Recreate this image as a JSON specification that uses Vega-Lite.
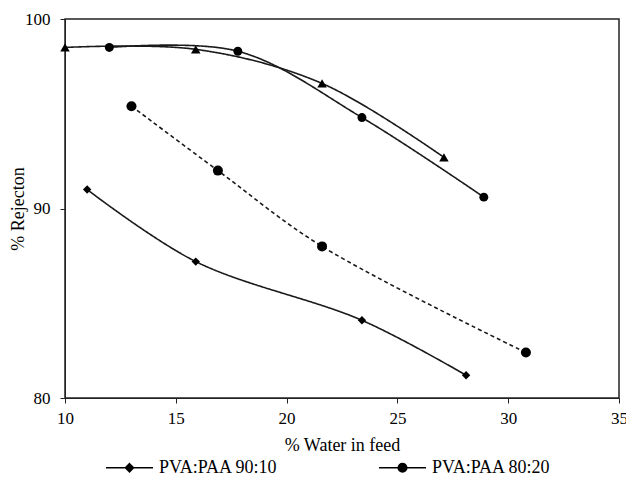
{
  "$schema": "https://vega.github.io/schema/vega-lite/v6.json",
  "width": 554,
  "height": 379,
  "autosize": {"type": "none"},
  "padding": {"left": 65, "top": 19, "right": 7, "bottom": 79},
  "background": "white",
  "config": {
    "font": "Liberation Serif",
    "view": {"stroke": "#222", "strokeWidth": 1.5},
    "legend": {"labelFont": "Liberation Serif"}
  },
  "data": {
    "values": [
      {"series": "PVA:PAA 90:10", "x": 11.0, "y": 91.0},
      {"series": "PVA:PAA 90:10", "x": 15.9, "y": 87.2},
      {"series": "PVA:PAA 90:10", "x": 23.4, "y": 84.1},
      {"series": "PVA:PAA 90:10", "x": 28.1, "y": 81.2},
      {"series": "PVA:PAA 80:20", "x": 12.0, "y": 98.5},
      {"series": "PVA:PAA 80:20", "x": 17.8, "y": 98.3},
      {"series": "PVA:PAA 80:20", "x": 23.4, "y": 94.8},
      {"series": "PVA:PAA 80:20", "x": 28.9, "y": 90.6},
      {"series": "PVA:PAA 70:30", "x": 10.0, "y": 98.5},
      {"series": "PVA:PAA 70:30", "x": 15.9, "y": 98.4},
      {"series": "PVA:PAA 70:30", "x": 21.6, "y": 96.6},
      {"series": "PVA:PAA 70:30", "x": 27.1, "y": 92.7},
      {"series": "PVA:PAA 80:20 (b)", "x": 13.0, "y": 95.4},
      {"series": "PVA:PAA 80:20 (b)", "x": 16.9, "y": 92.0},
      {"series": "PVA:PAA 80:20 (b)", "x": 21.6, "y": 88.0},
      {"series": "PVA:PAA 80:20 (b)", "x": 30.8, "y": 82.4}
    ]
  },
  "encoding": {
    "x": {
      "field": "x", "type": "quantitative",
      "scale": {"domain": [10, 35], "nice": false, "zero": false},
      "axis": {
        "title": "% Water in feed", "values": [10, 15, 20, 25, 30, 35],
        "grid": false, "tickSize": 5, "tickColor": "#222", "domainColor": "#222",
        "labelFontSize": 17, "labelColor": "black", "labelPadding": 7, "labelFlush": false,
        "titleFontSize": 18, "titleFontWeight": "normal", "titleColor": "black",
        "titleBaseline": "middle", "titleY": 47
      }
    },
    "y": {
      "field": "y", "type": "quantitative",
      "scale": {"domain": [80, 100], "nice": false, "zero": false},
      "axis": {
        "title": "% Rejecton", "values": [80, 90, 100],
        "grid": false, "tickSize": 5, "tickColor": "#222", "domainColor": "#222",
        "labelFontSize": 17, "labelColor": "black", "labelPadding": 10,
        "titleFontSize": 18, "titleFontWeight": "normal", "titleColor": "black",
        "titleBaseline": "middle", "titleX": -47
      }
    }
  },
  "layer": [
    {
      "mark": {"type": "line", "interpolate": "catmull-rom", "color": "#1a1a1a", "strokeWidth": 1.6},
      "encoding": {
        "detail": {"field": "series"},
        "strokeDash": {
          "field": "series",
          "scale": {
            "domain": ["PVA:PAA 90:10", "PVA:PAA 80:20", "PVA:PAA 70:30", "PVA:PAA 80:20 (b)"],
            "range": [[1, 0], [1, 0], [1, 0], [4, 3]]
          },
          "legend": null
        }
      }
    },
    {
      "mark": {"type": "point", "filled": true, "opacity": 1, "color": "black"},
      "encoding": {
        "shape": {
          "field": "series",
          "scale": {
            "domain": ["PVA:PAA 90:10", "PVA:PAA 80:20", "PVA:PAA 70:30", "PVA:PAA 80:20 (b)"],
            "range": ["diamond", "circle", "triangle-up", "circle"]
          },
          "legend": null
        },
        "size": {
          "field": "series",
          "scale": {
            "domain": ["PVA:PAA 90:10", "PVA:PAA 80:20", "PVA:PAA 70:30", "PVA:PAA 80:20 (b)"],
            "range": [70, 100, 80, 100]
          },
          "legend": null
        }
      }
    },
    {
      "transform": [{"filter": {"field": "series", "oneOf": ["PVA:PAA 90:10", "PVA:PAA 80:20"]}}],
      "mark": {"type": "point", "filled": false, "opacity": 0, "color": "black", "size": 2209, "strokeWidth": 1.6},
      "encoding": {
        "shape": {
          "field": "series",
          "scale": {
            "domain": ["PVA:PAA 90:10", "PVA:PAA 80:20"],
            "range": [
              "M-1,0L1,0M0,-0.17L0.17,0L0,0.17L-0.17,0ZM0,-0.13L0.13,0L0,0.13L-0.13,0ZM0,-0.09L0.09,0L0,0.09L-0.09,0ZM0,-0.05L0.05,0L0,0.05L-0.05,0ZM0,-0.02L0.02,0L0,0.02L-0.02,0Z",
              "M-1,0L1,0M0.18,0A0.18,0.18,0,1,1,-0.18,0A0.18,0.18,0,1,1,0.18,0ZM0.14,0A0.14,0.14,0,1,1,-0.14,0A0.14,0.14,0,1,1,0.14,0ZM0.1,0A0.1,0.1,0,1,1,-0.1,0A0.1,0.1,0,1,1,0.1,0ZM0.06,0A0.06,0.06,0,1,1,-0.06,0A0.06,0.06,0,1,1,0.06,0ZM0.03,0A0.03,0.03,0,1,1,-0.03,0A0.03,0.03,0,1,1,0.03,0Z"
            ]
          },
          "legend": {
            "orient": "none", "legendX": 40, "legendY": 424, "direction": "horizontal",
            "title": null, "padding": 0, "columnPadding": 97, "labelOffset": 5,
            "labelFontSize": 18, "labelFont": "Liberation Serif", "labelColor": "black",
            "labelLimit": 300,
            "symbolSize": 2209, "symbolFillColor": "black", "symbolStrokeColor": "black",
            "symbolStrokeWidth": 1.6, "symbolOpacity": 1,
            "encode": {
              "symbols": {
                "update": {
                  "stroke": {"value": "black"},
                  "strokeWidth": {"value": 1.6},
                  "opacity": {"value": 1},
                  "strokeOpacity": {"value": 1}
                }
              }
            }
          }
        }
      }
    }
  ],
  "resolve": {"scale": {"shape": "independent", "size": "independent"}, "legend": {"shape": "independent"}}
}
